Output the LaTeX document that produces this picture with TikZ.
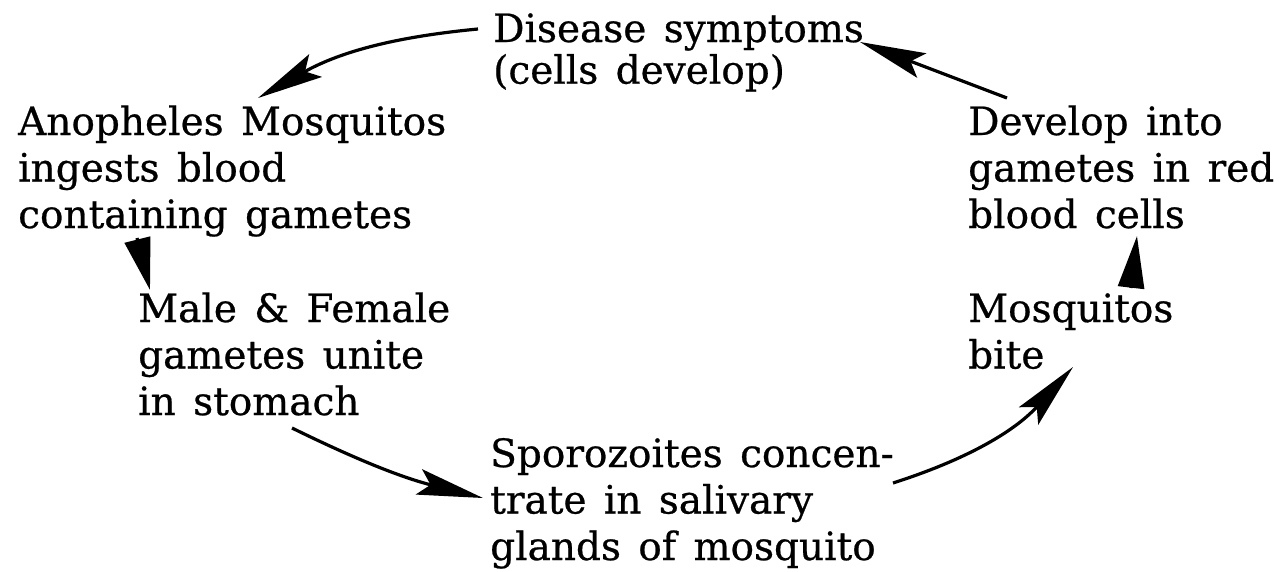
\documentclass[tikz,border=0pt]{standalone}
\usepackage{fontspec}
\setmainfont{DejaVu Serif}[WordSpace=1.4]
\newfontfamily\lblfont{DejaVu Serif}[WordSpace=1.4,FakeBold=0.6]
\usetikzlibrary{arrows.meta}
\begin{document}
\begin{tikzpicture}[x=1pt,y=-1pt,
  lbl/.style={anchor=base west, inner sep=0pt, font=\lblfont\fontsize{39}{46.5}\selectfont},
  flow/.style={line width=3.2pt, -{Stealth[length=66pt,width=26pt,inset=12pt]}},
  shortflow/.style={line width=3.2pt, -{Stealth[length=52pt,width=26pt,inset=0pt]}}]
\useasboundingbox (0,0) rectangle (1287,571);
\node[lbl, font=\lblfont\fontsize{39}{40}\selectfont] (dis) at (493,42)
  {\begin{tabular}[t]{@{}l@{}}Disease symptoms\\(cells develop)\end{tabular}};
\node[lbl] (ano) at (18,135)
  {\begin{tabular}[t]{@{}l@{}}Anopheles Mosquitos\\ingests blood\\containing gametes\end{tabular}};
\node[lbl] (mal) at (138,322)
  {\begin{tabular}[t]{@{}l@{}}Male \& Female\\gametes unite\\in stomach\end{tabular}};
\node[lbl] (spo) at (490,467)
  {\begin{tabular}[t]{@{}l@{}}Sporozoites concen-\\trate in salivary\\glands of mosquito\end{tabular}};
\node[lbl] (dev) at (968,135)
  {\begin{tabular}[t]{@{}l@{}}Develop into\\gametes in red\\blood cells\end{tabular}};
\node[lbl] (mos) at (968,322)
  {\begin{tabular}[t]{@{}l@{}}Mosquitos\\bite\end{tabular}};
\coordinate (a1s) at (478,29);  \coordinate (a1e) at (258,98);
\coordinate (a2s) at (1007,98); \coordinate (a2e) at (860,42);
\coordinate (a3s) at (137,238); \coordinate (a3e) at (150,290);
\coordinate (a4s) at (292,428); \coordinate (a4e) at (483,498);
\coordinate (a5s) at (893,483); \coordinate (a5e) at (1073,367);
\coordinate (a6s) at (1131,288); \coordinate (a6e) at (1137,236);
\draw[flow] (a1s) to[bend right=12] (a1e);
\draw[flow] (a2s) -- (a2e);
\draw[shortflow] (a3s) -- (a3e);
\draw[flow] (a4s) to[bend right=6] (a4e);
\draw[flow] (a5s) to[bend right=15] (a5e);
\draw[shortflow] (a6s) -- (a6e);
\end{tikzpicture}
\end{document}
